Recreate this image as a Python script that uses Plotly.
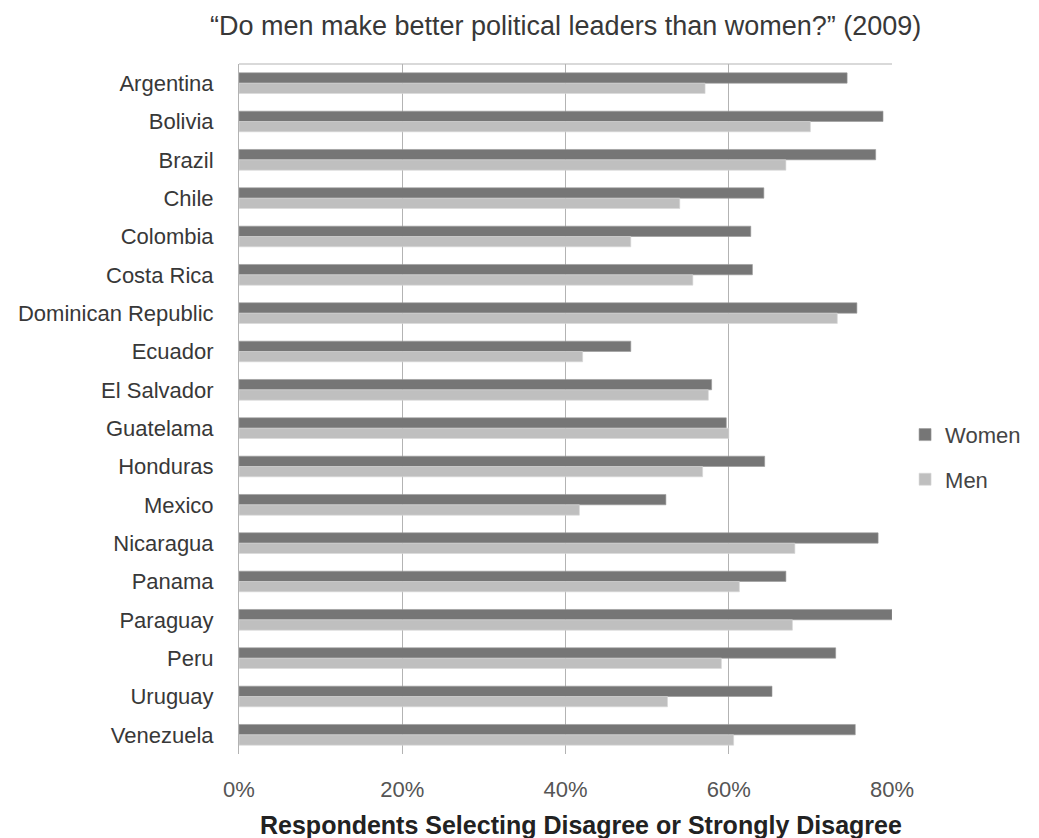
import plotly.graph_objects as go

countries = ["Argentina", "Bolivia", "Brazil", "Chile", "Colombia", "Costa Rica",
             "Dominican Republic", "Ecuador", "El Salvador", "Guatelama", "Honduras",
             "Mexico", "Nicaragua", "Panama", "Paraguay", "Peru", "Uruguay", "Venezuela"]
women = [74.5, 78.9, 78.0, 64.3, 62.7, 62.9, 75.7, 48.0, 57.9, 59.7, 64.4, 52.3,
         78.3, 67.0, 80.0, 73.1, 65.3, 75.5]
men = [57.1, 70.0, 67.0, 54.0, 48.0, 55.6, 73.3, 42.1, 57.5, 60.0, 56.8, 41.7,
       68.1, 61.3, 67.8, 59.1, 52.5, 60.6]
x_ticks = [0, 20, 40, 60, 80]
x_tick_labels = ["0%", "20%", "40%", "60%", "80%"]

FONT = "Liberation Sans, Helvetica, Arial, sans-serif"

fig = go.Figure()
fig.add_trace(go.Bar(y=countries, x=women, name="Women", orientation="h",
                     marker=dict(color="#767676", line=dict(color="#9a9a9a", width=0.6)),
                     legendgroup="w"))
fig.add_trace(go.Bar(y=countries, x=men, name="Men", orientation="h",
                     marker=dict(color="#bfbfbf", line=dict(color="#d6d6d6", width=0.6)),
                     legendgroup="m"))

fig.update_layout(
    width=1039, height=838,
    margin=dict(l=239, r=147, t=64, b=84),
    paper_bgcolor="white", plot_bgcolor="white",
    barmode="group", bargap=0.46, bargroupgap=0,
    font=dict(family=FONT, color="#333333", size=22),
    title=dict(text="\u201cDo men make better political leaders than women?\u201d (2009)",
               x=0.5444, xanchor="center", y=0.970, yanchor="middle",
               font=dict(size=27, color="#383838")),
    legend=dict(x=1.02, xanchor="left", y=0.43, yanchor="middle",
                font=dict(size=22, color="#444444"), tracegroupgap=13,
                bgcolor="rgba(0,0,0,0)", itemwidth=30, borderwidth=0),
    showlegend=True,
    shapes=[dict(type="line", xref="paper", yref="paper", x0=0, x1=1, y0=1, y1=1,
                 line=dict(color="#b3b3b3", width=1))],
    annotations=[dict(text="<b>Respondents Selecting Disagree or Strongly Disagree</b>",
                      xref="paper", yref="paper", x=0.5237, y=-0.103,
                      xanchor="center", yanchor="middle", showarrow=False,
                      font=dict(size=25, color="#222222"))],
)
fig.update_xaxes(range=[0, 80], tickvals=x_ticks, ticktext=x_tick_labels,
                 showgrid=True, gridcolor="#b3b3b3", gridwidth=1,
                 zeroline=False, showline=False, ticks="",
                 ticklabelstandoff=20,
                 tickfont=dict(size=22, color="#555555"))
fig.update_yaxes(autorange="reversed", showline=True, linecolor="#b3b3b3", linewidth=1,
                 ticks="", ticklabelstandoff=20, showgrid=False,
                 tickfont=dict(size=22, color="#383838"))

fig.write_html("out.html")
